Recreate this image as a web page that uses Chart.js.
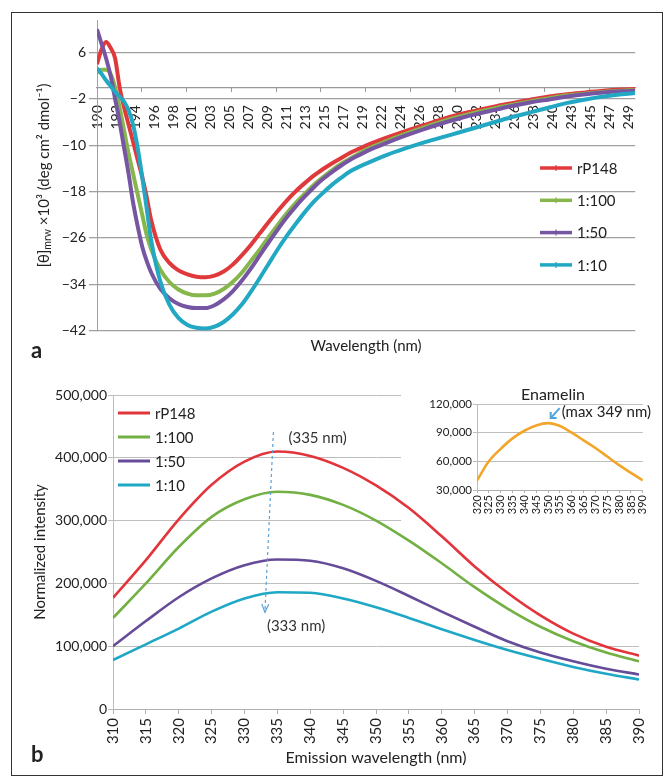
<!DOCTYPE html>
<html lang="en">
<head>
<meta charset="UTF-8" />
<title>rP148 CD and fluorescence spectra</title>
<script src="https://cdn.jsdelivr.net/npm/chart.js"></script>
<style>
  body { margin: 0; background: #fff; }
  #frame { position: absolute; left: 11px; top: 12px; width: 650px; height: 762px; border: 1px solid #333; }
  canvas { position: absolute; }
  #cdChart { left: 0; top: 0; }
  #flChart { left: 0; top: 370px; }
  #insetChart { left: 400px; top: 378px; }
</style>
</head>
<body>
<div id="frame"></div>
<canvas id="cdChart" width="664" height="370"></canvas>
<canvas id="flChart" width="664" height="406"></canvas>
<canvas id="insetChart" width="258" height="139"></canvas>
<script>
  const FONT = "Lato, 'Open Sans', sans-serif";
  Chart.defaults.font.family = FONT;
  Chart.defaults.color = '#222';

  // ---- panel a: CD spectra ----
  const cdWavelength = [190, 190.5, 191, 191.5, 192, 192.5, 193, 193.5, 194, 194.5, 195, 195.5, 196,
    197, 198, 199, 200, 201, 202, 203, 204, 205, 206, 207, 208, 209, 210, 211, 212, 213, 214, 215,
    216, 217, 218, 219, 220, 222, 224, 226, 228, 230, 232, 234, 236, 238, 240, 242, 244, 246, 248, 249.5];
  const cdRP148 = [4.0, 6.5, 7.8, 6.8, 5.0, 0, -3.5, -6.5, -9.5, -12.5, -15.5, -19, -23,
    -28, -30.3, -31.6, -32.3, -32.7, -32.8, -32.5, -31.8, -30.6, -29, -27.2, -25.2, -23.2, -21.3, -19.5, -17.9, -16.5, -15.2, -14.1,
    -13.1, -12.2, -11.3, -10.6, -9.9, -8.7, -7.6, -6.6, -5.6, -4.7, -4.0, -3.3, -2.7, -2.1, -1.6, -1.2, -0.9, -0.6, -0.4, -0.3];
  const cd1to100 = [2.5, 3.0, 3.0, 2.3, 0, -3.5, -7.5, -11.5, -15, -18.5, -22, -25.5, -28,
    -31.5, -33.6, -34.9, -35.6, -35.9, -35.9, -35.6, -34.8, -33.6, -32, -30, -28, -25.8, -23.7, -21.7, -19.9, -18.3, -16.8, -15.5,
    -14.3, -13.2, -12.3, -11.4, -10.6, -9.3, -8.1, -7.0, -6.0, -5.1, -4.3, -3.6, -3.0, -2.4, -1.9, -1.4, -1.1, -0.8, -0.6, -0.5];
  const cd1to50 = [10, 7.5, 5, 2, -2, -6, -10.5, -15, -20, -24, -27.5, -30, -32,
    -34.8, -36.4, -37.4, -37.9, -38.1, -38.1, -37.6, -36.6, -35.2, -33.4, -31.3, -29, -26.7, -24.5, -22.4, -20.5, -18.8, -17.2, -15.8,
    -14.6, -13.5, -12.5, -11.7, -10.9, -9.6, -8.4, -7.3, -6.3, -5.4, -4.6, -3.9, -3.2, -2.6, -2.1, -1.6, -1.2, -0.9, -0.7, -0.6];
  const cd1to10 = [3.3, 2.3, 1.2, 0.2, -0.8, -1.6, -2.5, -4, -6.5, -10.5, -15.5, -21, -26.5,
    -33.5, -37.5, -39.8, -41, -41.5, -41.6, -41.3, -40.5, -39.2, -37.5, -35.3, -32.9, -30.4, -27.9, -25.6, -23.5, -21.5, -19.7, -18.2,
    -16.8, -15.6, -14.5, -13.7, -13.0, -11.7, -10.6, -9.6, -8.7, -7.8, -6.9, -6.0, -5.1, -4.3, -3.5, -2.7, -2.1, -1.6, -1.2, -1.0];
  const cdTickLabels = ['190', '192', '194', '196', '198', '201', '203', '205', '207', '209', '211', '213', '215', '217', '219',
    '222', '224', '226', '228', '230', '232', '234', '236', '238', '240', '243', '245', '247', '249'];
  const cdYTicks = [-42, -34, -26, -18, -10, -2, 6];

  // ---- panel b: fluorescence emission ----
  const flWavelength = [310, 315, 320, 325, 330, 335, 340, 345, 350, 355, 360, 365, 370, 375, 380, 385, 390];
  const flRP148 = [177000, 237000, 302000, 357000, 394000, 410000, 403000, 384000, 356000, 320000, 275000, 227000, 185000, 149000, 120000, 99000, 85000];
  const fl1to100 = [145000, 200000, 258000, 306000, 334000, 346000, 341000, 325000, 300000, 268000, 232000, 194000, 160000, 131000, 108000, 90000, 76000];
  const fl1to50 = [100000, 140000, 178000, 208000, 229000, 238000, 236000, 224000, 204000, 180000, 155000, 131000, 108000, 90000, 76000, 64000, 55000];
  const fl1to10 = [78000, 103000, 128000, 155000, 176000, 186000, 185000, 176000, 162000, 145000, 127000, 110000, 94000, 80000, 67000, 56000, 47000];

  // ---- inset: enamelin ----
  const enWavelength = [320, 325, 330, 335, 340, 345, 350, 355, 360, 365, 370, 375, 380, 385, 390];
  const enIntensity = [40000, 60000, 73000, 84000, 92000, 97500, 100000, 97000, 90000, 82000, 74000, 65000, 56000, 48000, 40000];

  const seriesNames = ['rP148', '1:100', '1:50', '1:10'];
  const cdColors = ['#e0393c', '#86b64c', '#7656a2', '#23a8c4'];
  const flColors = ['#e2343b', '#72b043', '#654b98', '#1ea8c6'];
  const peakArrowNm = [334.4, 333.1];
  const peakArrowVal = [441000, 154000];
  const peakLabels = ['(335 nm)', '(333 nm)'];

  function pts(xs, ys) { return xs.map((x, i) => ({ x: x, y: ys[i] })); }

  function drawParts(ctx, parts) {
    let total = 0;
    parts.forEach(p => { ctx.font = p[1] + 'px ' + FONT; total += ctx.measureText(p[0]).width; });
    let x = -total / 2;
    parts.forEach(p => {
      ctx.font = p[1] + 'px ' + FONT;
      ctx.fillText(p[0], x, p[2]);
      x += ctx.measureText(p[0]).width;
    });
  }

  function drawLegend(ctx, colors, x0, x1, y0, dy, width, marker) {
    ctx.textAlign = 'left';
    ctx.textBaseline = 'middle';
    seriesNames.forEach((name, i) => {
      const y = y0 + i * dy;
      ctx.strokeStyle = colors[i];
      ctx.lineWidth = width;
      ctx.beginPath(); ctx.moveTo(x0, y); ctx.lineTo(x1, y); ctx.stroke();
      if (marker) {
        ctx.lineWidth = 1.2;
        ctx.beginPath(); ctx.moveTo((x0 + x1) / 2, y - 3); ctx.lineTo((x0 + x1) / 2, y + 3); ctx.stroke();
      }
      ctx.fillStyle = '#222';
      ctx.font = '15px ' + FONT;
      ctx.fillText(name, x1 + 5, y + 1);
    });
  }

  const cdDecor = {
    id: 'cdDecor',
    afterDraw(chart) {
      const ctx = chart.ctx;
      ctx.save();
      drawLegend(ctx, cdColors, 540, 572, 168, 32.3, 3.5, true);
      ctx.fillStyle = '#222';
      ctx.font = '15px ' + FONT;
      ctx.textAlign = 'center';
      ctx.textBaseline = 'middle';
      const a = chart.chartArea;
      ctx.fillText('Wavelength (nm)', (a.left + a.right) / 2, 346);
      ctx.font = 'bold 22px ' + FONT;
      ctx.textAlign = 'left';
      ctx.textBaseline = 'alphabetic';
      ctx.fillText('a', 31, 358);
      ctx.translate(44, (a.top + a.bottom) / 2);
      ctx.rotate(-Math.PI / 2);
      ctx.textBaseline = 'middle';
      drawParts(ctx, [['[θ]', 15, 0], ['mrw', 10.5, 4], [' ×10³ (deg cm² dmol⁻¹)', 15, 0]]);
      ctx.restore();
    }
  };

  const flDecor = {
    id: 'flDecor',
    beforeDatasetsDraw(chart) {
      // gridlines stop where the inset sits
      const ctx = chart.ctx, a = chart.chartArea;
      const yCut = chart.scales.y.getPixelForValue(300000);
      ctx.save();
      ctx.fillStyle = '#fff';
      ctx.fillRect(401, a.top - 2, a.right - 399, yCut - a.top + 3.5);
      ctx.restore();
    },
    afterDraw(chart) {
      const ctx = chart.ctx, a = chart.chartArea;
      const xs = chart.scales.x, ys = chart.scales.y;
      ctx.save();
      drawLegend(ctx, flColors, 118, 150, 43, 24, 3, false);

      // peak shift arrow
      const p0 = { x: xs.getPixelForValue(peakArrowNm[0]), y: ys.getPixelForValue(peakArrowVal[0]) };
      const p1 = { x: xs.getPixelForValue(peakArrowNm[1]), y: ys.getPixelForValue(peakArrowVal[1]) };
      ctx.strokeStyle = '#5b9fd6';
      ctx.lineWidth = 1.2;
      ctx.setLineDash([3, 3]);
      ctx.beginPath(); ctx.moveTo(p0.x, p0.y); ctx.lineTo(p1.x, p1.y); ctx.stroke();
      ctx.setLineDash([]);
      const ang = Math.atan2(p1.y - p0.y, p1.x - p0.x);
      ctx.beginPath();
      ctx.moveTo(p1.x - 9 * Math.cos(ang - 0.4), p1.y - 9 * Math.sin(ang - 0.4));
      ctx.lineTo(p1.x, p1.y);
      ctx.lineTo(p1.x - 9 * Math.cos(ang + 0.4), p1.y - 9 * Math.sin(ang + 0.4));
      ctx.stroke();

      ctx.fillStyle = '#333';
      ctx.font = '15px ' + FONT;
      ctx.textAlign = 'left';
      ctx.textBaseline = 'middle';
      ctx.fillText(peakLabels[0], p0.x + 15, p0.y + 6);
      ctx.fillText(peakLabels[1], p1.x + 2, p1.y + 14);

      ctx.fillStyle = '#222';
      ctx.font = '16px ' + FONT;
      ctx.textAlign = 'center';
      ctx.fillText('Emission wavelength (nm)', (a.left + a.right) / 2, 388);
      ctx.font = 'bold 22px ' + FONT;
      ctx.textAlign = 'left';
      ctx.textBaseline = 'alphabetic';
      ctx.fillText('b', 31, 392);
      ctx.translate(40, (a.top + a.bottom) / 2);
      ctx.rotate(-Math.PI / 2);
      ctx.textAlign = 'center';
      ctx.textBaseline = 'middle';
      ctx.font = '15px ' + FONT;
      ctx.fillText('Normalized intensity', 0, 0);
      ctx.restore();
    }
  };

  const insetDecor = {
    id: 'insetDecor',
    afterDraw(chart) {
      const ctx = chart.ctx;
      const xs = chart.scales.x, ys = chart.scales.y;
      ctx.save();
      ctx.fillStyle = '#222';
      ctx.font = '16px ' + FONT;
      ctx.textAlign = 'center';
      ctx.textBaseline = 'middle';
      ctx.fillText('Enamelin', 153, 17);
      const tip = { x: xs.getPixelForValue(349) + 5, y: ys.getPixelForValue(100000) - 5 };
      const tail = { x: tip.x + 9, y: tip.y - 10 };
      ctx.strokeStyle = '#4fa5d8';
      ctx.lineWidth = 2;
      ctx.beginPath(); ctx.moveTo(tail.x, tail.y); ctx.lineTo(tip.x, tip.y); ctx.stroke();
      ctx.beginPath();
      ctx.moveTo(tip.x, tip.y - 6); ctx.lineTo(tip.x, tip.y); ctx.lineTo(tip.x + 6, tip.y);
      ctx.stroke();
      ctx.fillStyle = '#222';
      ctx.font = '15px ' + FONT;
      ctx.textAlign = 'left';
      ctx.fillText('(max 349 nm)', tail.x + 2, tail.y + 4);
      ctx.restore();
    }
  };

  const cdSeries = [cdRP148, cd1to100, cd1to50, cd1to10];
  new Chart(document.getElementById('cdChart'), {
    type: 'line',
    data: {
      datasets: cdSeries.map((s, i) => ({
        label: seriesNames[i], data: pts(cdWavelength, s), borderColor: cdColors[i],
        borderWidth: 4, pointRadius: 0, cubicInterpolationMode: 'monotone', order: 3 - i
      }))
    },
    options: {
      responsive: false, animation: false, devicePixelRatio: 1,
      layout: { padding: { left: 0, top: 20, right: 26, bottom: 39.3 } },
      plugins: { legend: { display: false }, tooltip: { enabled: false } },
      scales: {
        x: {
          type: 'linear', position: { y: 0 }, min: 190, max: 249.5,
          afterBuildTicks: s => { s.ticks = cdTickLabels.map((t, i) => ({ value: 190 + 2.1 * i })); },
          ticks: { autoSkip: false, maxRotation: 90, minRotation: 90, padding: 18, font: { size: 14 },
            callback: (v, i) => cdTickLabels[i] },
          grid: { drawOnChartArea: false, drawTicks: false },
          border: { color: '#999', width: 1.2 }
        },
        xt: {
          axis: 'x', type: 'linear', position: { y: 0 }, min: 190, max: 249.5,
          afterBuildTicks: s => { const t = []; for (let v = 190; v <= 249.5; v += 4.95) t.push({ value: v }); s.ticks = t; },
          ticks: { display: false },
          grid: { drawOnChartArea: false, tickLength: 5, color: '#999' },
          border: { display: false }
        },
        y: {
          min: -42, max: 11.6,
          afterBuildTicks: s => { s.ticks = cdYTicks.map(v => ({ value: v })); },
          afterFit: s => { s.width = 97; },
          ticks: { padding: 3, font: { size: 14 }, callback: v => String(v).replace('-', '\u2212') },
          grid: { color: '#a0a0a0', tickLength: 8, lineWidth: 1.3 },
          border: { color: '#a0a0a0' }
        }
      }
    },
    plugins: [cdDecor]
  });

  const flSeries = [flRP148, fl1to100, fl1to50, fl1to10];
  new Chart(document.getElementById('flChart'), {
    type: 'line',
    data: {
      datasets: flSeries.map((s, i) => ({
        label: seriesNames[i], data: pts(flWavelength, s), borderColor: flColors[i],
        borderWidth: 2.6, pointRadius: 0, cubicInterpolationMode: 'monotone'
      }))
    },
    options: {
      responsive: false, animation: false, devicePixelRatio: 1,
      layout: { padding: { left: 0, top: 25, right: 25, bottom: 0 } },
      plugins: { legend: { display: false }, tooltip: { enabled: false } },
      scales: {
        x: {
          type: 'linear', min: 310, max: 390,
          afterFit: s => { s.height = 67; },
          ticks: { stepSize: 5, autoSkip: false, maxRotation: 90, minRotation: 90, padding: 4, font: { size: 15 } },
          grid: { drawOnChartArea: false, tickLength: 5, color: '#b0b0b0' },
          border: { color: '#b0b0b0' }
        },
        y: {
          min: 0, max: 500000,
          afterFit: s => { s.width = 113; },
          ticks: { stepSize: 100000, padding: 1, font: { size: 14 }, callback: v => v.toLocaleString('en-US') },
          grid: { color: '#bdbdbd', tickLength: 5 },
          border: { color: '#bdbdbd' }
        }
      }
    },
    plugins: [flDecor]
  });

  new Chart(document.getElementById('insetChart'), {
    type: 'line',
    data: {
      datasets: [{ label: 'Enamelin', data: pts(enWavelength, enIntensity), borderColor: '#f2a529',
        borderWidth: 2.6, pointRadius: 0, cubicInterpolationMode: 'monotone' }]
    },
    options: {
      responsive: false, animation: false, devicePixelRatio: 1,
      layout: { padding: { left: 0, top: 26, right: 15, bottom: 0 } },
      plugins: { legend: { display: false }, tooltip: { enabled: false } },
      scales: {
        x: {
          type: 'linear', min: 320, max: 390,
          afterFit: s => { s.height = 27; },
          ticks: { stepSize: 5, autoSkip: false, maxRotation: 90, minRotation: 90, padding: 2, font: { size: 11 } },
          grid: { drawOnChartArea: false, tickLength: 3, color: '#b0b0b0' },
          border: { color: '#b0b0b0' }
        },
        y: {
          min: 30000, max: 120000,
          afterFit: s => { s.width = 77; },
          ticks: { stepSize: 30000, padding: 1, font: { size: 11.5 }, callback: v => v.toLocaleString('en-US') },
          grid: { color: '#bdbdbd', tickLength: 4 },
          border: { color: '#bdbdbd' }
        }
      }
    },
    plugins: [insetDecor]
  });
</script>
</body>
</html>
